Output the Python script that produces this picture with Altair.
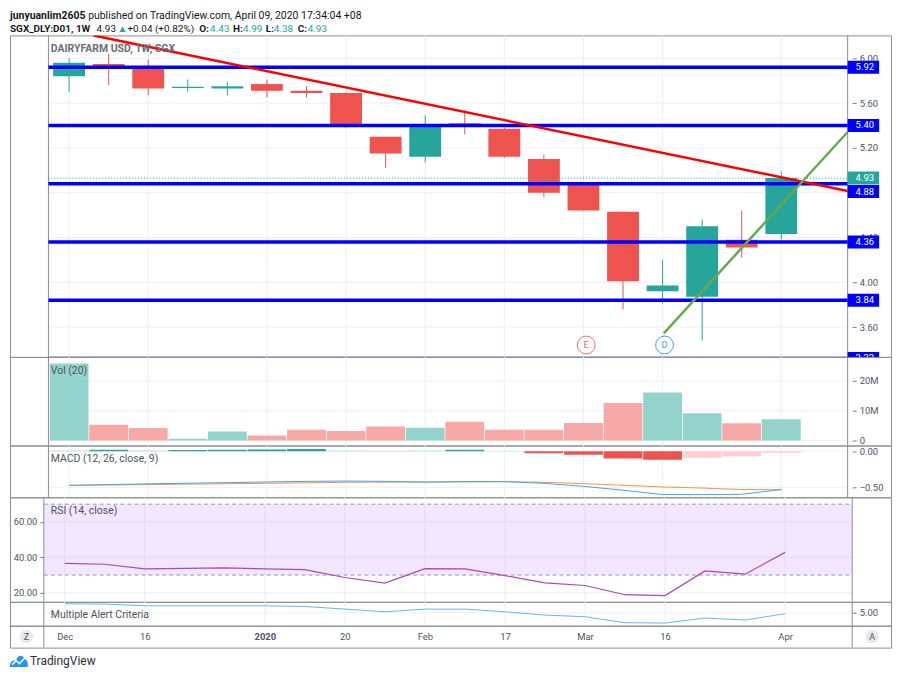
import altair as alt
import pandas as pd

# ------------------------------------------------------------------ data
weeks = ["2019-12-02", "2019-12-09", "2019-12-16", "2019-12-23", "2019-12-30",
         "2020-01-06", "2020-01-13", "2020-01-20", "2020-01-27", "2020-02-03",
         "2020-02-10", "2020-02-17", "2020-02-24", "2020-03-02", "2020-03-09",
         "2020-03-16", "2020-03-23", "2020-03-30", "2020-04-06"]
opens = [5.84, 5.95, 5.91, 5.735, 5.73, 5.77, 5.71, 5.69, 5.30, 5.12, 5.42, 5.37,
         5.10, 4.88, 4.63, 3.92, 3.87, 4.38, 4.43]
highs = [6.00, 6.04, 5.99, 5.81, 5.79, 5.81, 5.75, 5.70, 5.30, 5.49, 5.535, 5.38,
         5.14, 4.88, 4.63, 4.20, 4.56, 4.64, 4.99]
lows = [5.70, 5.76, 5.67, 5.70, 5.67, 5.65, 5.65, 5.38, 5.02, 5.07, 5.32, 5.11,
        4.76, 4.64, 3.76, 3.81, 3.48, 4.22, 4.38]
closes = [5.96, 5.92, 5.73, 5.745, 5.75, 5.71, 5.69, 5.40, 5.15, 5.41, 5.40, 5.12,
          4.80, 4.64, 4.01, 3.97, 4.50, 4.31, 4.93]
volumes_m = [25.8, 5.3, 4.2, 0.6, 3.0, 1.7, 3.6, 3.2, 4.7, 4.3, 6.3, 3.6, 3.6, 5.9,
             12.6, 16.1, 9.1, 5.8, 7.1]
macd_vals = [-0.472, -0.462, -0.452, -0.443, -0.435, -0.426, -0.418, -0.413, -0.418,
             -0.428, -0.420, -0.420, -0.445, -0.486, -0.540, -0.600, -0.600, -0.597, -0.530]
signal_vals = [-0.474, -0.468, -0.462, -0.456, -0.450, -0.444, -0.437, -0.430, -0.428,
               -0.428, -0.425, -0.423, -0.430, -0.450, -0.472, -0.495, -0.510, -0.530, -0.535]
hist_vals = [0.01, 0.02, 0.01, 0.015, 0.02, 0.025, 0.03, 0.01, -0.01, 0.01, 0.02, 0.003,
             -0.03, -0.05, -0.10, -0.12, -0.09, -0.07, -0.02]
hist_kind = ["up_weak", "up_strong", "up_weak", "up_strong", "up_strong", "up_strong",
             "up_strong", "up_weak", "down_weak", "up_weak", "up_strong", "up_weak",
             "down_strong", "down_strong", "down_strong", "down_strong", "down_weak",
             "down_weak", "down_weak"]
rsi_vals = [36.6, 36.1, 33.5, 33.8, 34.0, 33.5, 33.1, 28.6, 25.5, 33.6, 33.5, 29.7,
            25.6, 24.1, 18.9, 18.4, 32.3, 30.5, 42.8]
alert_vals = [5.93, 5.90, 5.72, 5.72, 5.72, 5.72, 5.65, 5.38, 5.10, 5.38, 5.38, 5.10,
              4.76, 4.59, 3.97, 3.94, 4.45, 4.25, 4.90]

tick_idx = [0, 2, 5, 7, 9, 11, 13, 15, 18]
tick_labels = ["Dec", "16", "2020", "20", "Feb", "17", "Mar", "16", "Apr"]
price_ticks = [6.0, 5.6, 5.2, 4.8, 4.4, 4.0, 3.6]
price_tick_labels_shown = [6.0, 5.6, 5.2, 4.4, 4.0, 3.6]   # 4.80 is hidden by a label box
vol_ticks = [0, 10, 20]
macd_ticks = [0.0, -0.5]
rsi_ticks = [20, 40, 60]
rsi_band = [30, 70]
alert_ticks = [5.0]

levels = [5.92, 5.40, 4.88, 4.36, 3.84, 3.32]
level_label_pos = [5.92, 5.40, 4.81, 4.36, 3.84, 3.32]
level_labels = ["5.92", "5.40", "4.88", "4.36", "3.84", "3.32"]
red_line_i = [0.62, 19.677]
red_line_p = [6.204, 4.815]
green_line_i = [15.03, 19.677]
green_line_p = [3.544, 5.342]
event_labels = ["E", "D"]
event_i = [13.07, 15.05]
event_p = [3.44, 3.44]
event_colors = ["#f26d73", "#3f9ff2"]
last_price = 4.93

# ------------------------------------------------------------------ style / layout
F = "Roboto"
TXT = "#131722"
LAB = "#50535e"
GRID = "#eceff5"
FRAME = "#8a8d96"
TICK = "#787b86"
TEAL = "#26a69a"
RED = "#ef5350"

W = 885
XMIN, XMAX = -1.368, 20.647
X_LO, X_HI = -0.522, 19.677
X_BOX = 20.473
BOX_H = 0.058

xs = alt.Scale(domain=[XMIN, XMAX], nice=False, zero=False)


def X(f):
    return alt.X(f, type="quantitative", scale=xs, axis=None)


def make_y(domain, axis):
    sc = alt.Scale(domain=domain, nice=False, zero=False)

    def Y(f):
        return alt.Y(f, type="quantitative", scale=sc, axis=axis)
    return Y


def right_axis(values, **kw):
    return alt.Axis(orient="right", offset=-39, values=values, grid=False, domain=False,
                    tickSize=4, tickColor=TICK, labelColor=LAB, labelFontSize=9.5,
                    labelPadding=3, labelOverlap=False, title=None, minExtent=0,
                    maxExtent=40, **kw)


one = pd.DataFrame({"k": [0]})


def txt(text, x, y, size, color, weight="normal", align="left"):
    return alt.Chart(one).mark_text(
        text=text, align=align, baseline="middle", fontSize=size,
        fontWeight=weight, color=color, font=F
    ).encode(x=alt.value(x), y=alt.value(y))


def seps(axis=None):
    return alt.Chart(pd.DataFrame({"x": [X_LO, X_HI]})).mark_rule(
        color=FRAME, strokeWidth=1).encode(
        x=alt.X("x", type="quantitative", scale=xs, axis=axis))


def vgrid():
    return alt.Chart(pd.DataFrame({"i": tick_idx})).mark_rule(
        color=GRID, strokeWidth=1).encode(x=X("i"))


def hgrid(values, Y):
    return alt.Chart(pd.DataFrame({"v": values, "x0": X_LO, "x1": X_HI})).mark_rule(
        color=GRID, strokeWidth=1).encode(x=X("x0"), x2=alt.X2("x1"), y=Y("v"))


cdf = pd.DataFrame({"i": list(range(len(weeks))), "week": weeks, "open": opens,
                    "high": highs, "low": lows, "close": closes, "vol": volumes_m})
cdf["dir"] = ["up" if c >= o else "down" for o, c in zip(opens, closes)]
cdf["base"] = 0.0

# ------------------------------------------------------------------ header
head_l1 = [("junyuanlim2605", 0, "bold", TXT),
           ("published on TradingView.com, April 09, 2020 17:34:04 +08", 78.5, "normal", TXT)]
head_l2 = [("SGX_DLY:D01, 1W", 0, "bold", TXT), ("4.93", 87, "normal", TXT),
           ("▲", 108, "normal", TEAL), ("+0.04 (+0.82%)", 118, "normal", TXT),
           ("O:", 190, "bold", TXT), ("4.43", 201, "normal", TEAL),
           ("H:", 224, "bold", TXT), ("4.99", 234, "normal", TEAL),
           ("L:", 257, "bold", TXT), ("4.38", 265, "normal", TEAL),
           ("C:", 289, "bold", TXT), ("4.93", 299, "normal", TEAL)]
head_layers = [txt(t, x, 6, 10.5, c, w) for t, x, w, c in head_l1]
head_layers += [txt(t, x, 19, 10, c, w) for t, x, w, c in head_l2]
header = alt.layer(*head_layers).properties(
    width=W, height=25, view=alt.ViewBackground(stroke="transparent"))

# ------------------------------------------------------------------ price pane
YP = make_y([3.3333, 6.2044], right_axis(price_tick_labels_shown, format=".2f"))
cdir = alt.Color("dir:N", scale=alt.Scale(domain=["up", "down"], range=[TEAL, RED]),
                 legend=None)

wick = alt.Chart(cdf).mark_rule(strokeWidth=1).encode(
    x=X("i"), y=YP("low"), y2=alt.Y2("high"), color=cdir)
body = alt.Chart(cdf).mark_bar(size=32).encode(
    x=X("i"), y=YP("open"), y2=alt.Y2("close"), color=cdir)
lvl = alt.Chart(pd.DataFrame({"v": levels, "x0": X_LO, "x1": X_HI})).mark_rule(
    color="#0000ff", strokeWidth=3.5, clip=True).encode(
    x=X("x0"), x2=alt.X2("x1"), y=YP("v"))
lastline = alt.Chart(pd.DataFrame({"v": [last_price], "x0": X_LO, "x1": X_HI})).mark_rule(
    color=TEAL, strokeDash=[1, 2], strokeWidth=1).encode(
    x=X("x0"), x2=alt.X2("x1"), y=YP("v"))
red_tl = alt.Chart(pd.DataFrame({"i": red_line_i, "p": red_line_p})).mark_line(
    color="#ff0000", strokeWidth=2.5, clip=True).encode(x=X("i"), y=YP("p"))
green_tl = alt.Chart(pd.DataFrame({"i": green_line_i, "p": green_line_p})).mark_line(
    color="#6aa84f", strokeWidth=2.5, clip=True).encode(x=X("i"), y=YP("p"))

boxdf = pd.DataFrame({"pos": level_label_pos, "txt": level_labels, "x0": X_HI, "x1": X_BOX})
boxes = alt.Chart(boxdf).transform_calculate(
    lo=f"datum.pos - {BOX_H}", hi=f"datum.pos + {BOX_H}").mark_rect(
    color="#0000ff", clip=True).encode(
    x=X("x0"), x2=alt.X2("x1"), y=YP("lo:Q"), y2=alt.Y2("hi:Q"))
boxtxt = alt.Chart(boxdf).mark_text(
    color="white", align="left", dx=8, fontSize=9.5, clip=True).encode(
    x=X("x0"), y=YP("pos"), text="txt:N")
lastdf = pd.DataFrame({"pos": [last_price], "txt": [f"{last_price:.2f}"], "x0": X_HI, "x1": X_BOX})
lastbox = alt.Chart(lastdf).transform_calculate(
    lo=f"datum.pos - {BOX_H}", hi=f"datum.pos + {BOX_H}").mark_rect(
    color=TEAL).encode(x=X("x0"), x2=alt.X2("x1"), y=YP("lo:Q"), y2=alt.Y2("hi:Q"))
lasttxt = alt.Chart(lastdf).mark_text(
    color="white", align="left", dx=8, fontSize=9.5).encode(
    x=X("x0"), y=YP("pos"), text="txt:N")

ev_layers = []
for lab, ei, ep, col in zip(event_labels, event_i, event_p, event_colors):
    edf = pd.DataFrame({"i": [ei], "p": [ep], "t": [lab]})
    ev_layers.append(alt.Chart(edf).mark_circle(
        size=320, color="white", opacity=1, stroke=col, strokeWidth=1).encode(
        x=X("i"), y=YP("p")))
    ev_layers.append(alt.Chart(edf).mark_text(
        color=col, fontSize=9.5, baseline="middle").encode(
        x=X("i"), y=YP("p"), text="t:N"))

price = alt.layer(
    hgrid(price_ticks, YP), vgrid(), seps(), wick, body, lastline, lvl, red_tl, green_tl,
    boxes, boxtxt, lastbox, lasttxt, *ev_layers,
    txt("DAIRYFARM USD, 1W, SGX", 41, 14, 10.5, "#6a6d78", "bold"),
).properties(width=W, height=323)

# ------------------------------------------------------------------ volume pane
YV = make_y([-1.667, 28.0], right_axis(
    vol_ticks, labelExpr="datum.value == 0 ? '0' : datum.value + 'M'"))
vbars = alt.Chart(cdf).mark_bar(size=39).encode(
    x=X("i"), y=YV("vol"), y2=alt.Y2("base"),
    color=alt.Color("dir:N", scale=alt.Scale(domain=["up", "down"],
                                              range=["#93d3cc", "#f7a9a7"]), legend=None))
volume = alt.layer(
    hgrid(vol_ticks, YV), vgrid(), seps(), vbars,
    txt("Vol (20)", 41, 14, 10.5, LAB),
).properties(width=W, height=89)

# ------------------------------------------------------------------ MACD pane
YM = make_y([-0.638, 0.0785], right_axis(macd_ticks, format=".2f"))
mdf = pd.DataFrame({"i": list(range(len(weeks))), "macd": macd_vals, "signal": signal_vals,
                    "hist": hist_vals, "kind": hist_kind, "base": 0.0})
hbars = alt.Chart(mdf).mark_bar(size=39).encode(
    x=X("i"), y=YM("hist"), y2=alt.Y2("base"),
    color=alt.Color("kind:N", scale=alt.Scale(
        domain=["up_strong", "up_weak", "down_strong", "down_weak"],
        range=["#26a69a", "#b2dfdb", "#ef5350", "#ffcdd2"]), legend=None))
mline = alt.Chart(mdf).mark_line(color="#42a5f5", strokeWidth=1).encode(x=X("i"), y=YM("macd"))
sline = alt.Chart(mdf).mark_line(color="#ff8f3a", strokeWidth=1).encode(x=X("i"), y=YM("signal"))
macd = alt.layer(
    hgrid(macd_ticks, YM), vgrid(), seps(), hbars, sline, mline,
    txt("MACD (12, 26, close, 9)", 41, 14, 10.5, LAB),
).properties(width=W, height=52)

# ------------------------------------------------------------------ RSI pane
YR = make_y([14.89, 73.88], alt.Axis(
    orient="left", offset=-34, values=rsi_ticks, format=".2f", grid=False, domain=False,
    tickSize=4, tickColor=TICK, labelColor=LAB, labelFontSize=9.5, labelPadding=3,
    labelOverlap=False, title=None, minExtent=0, maxExtent=40))
rdf = pd.DataFrame({"i": list(range(len(weeks))), "rsi": rsi_vals})
band = alt.Chart(pd.DataFrame({"lo": [rsi_band[0]], "hi": [rsi_band[1]],
                               "x0": [X_LO], "x1": [X_HI]})).mark_rect(
    color="#b66dff", opacity=0.17).encode(
    x=X("x0"), x2=alt.X2("x1"), y=YR("lo"), y2=alt.Y2("hi"))
bandlines = alt.Chart(pd.DataFrame({"v": rsi_band, "x0": X_LO, "x1": X_HI})).mark_rule(
    color="#9598a1", strokeDash=[4, 3], strokeWidth=1).encode(
    x=X("x0"), x2=alt.X2("x1"), y=YR("v"))
rline = alt.Chart(rdf).mark_line(color="#ab47bc", strokeWidth=1.2).encode(x=X("i"), y=YR("rsi"))
rsi = alt.layer(
    hgrid(rsi_ticks, YR), vgrid(), band, bandlines, seps(), rline,
    txt("RSI (14, close)", 41, 14, 10.5, LAB),
).properties(width=W, height=105)

# ------------------------------------------------------------------ Multiple Alert Criteria pane
YA = make_y([3.66, 6.134], right_axis(alert_ticks, format=".2f"))
adf = pd.DataFrame({"i": list(range(len(weeks))), "a": alert_vals})
aline = alt.Chart(adf).mark_line(color="#64b5f6", strokeWidth=1).encode(x=X("i"), y=YA("a"))
alert = alt.layer(
    hgrid(alert_ticks, YA), vgrid(), seps(), aline,
    txt("Multiple Alert Criteria", 41, 13, 10.5, LAB),
).properties(width=W, height=24)

# ------------------------------------------------------------------ time axis pane
bold_val = tick_idx[tick_labels.index("2020")]
label_expr = ("[" + ",".join(f"'{s}'" for s in tick_labels) + "][indexof(["
              + ",".join(str(v) for v in tick_idx) + "], datum.value)]")
t_axis = alt.Axis(orient="bottom", offset=-22, values=tick_idx, labelExpr=label_expr,
                  ticks=False, tickSize=0, domain=False, grid=False, labelPadding=6,
                  labelFontSize=9.5, labelColor=LAB, labelOverlap=False, labelFlush=False,
                  labelFontWeight={"condition": {"test": f"datum.value == {bold_val}",
                                                 "value": "bold"}, "value": "normal"},
                  title=None)


def button(letter, x):
    return [
        alt.Chart(one).mark_circle(size=180, color="#e6e8ee", opacity=1).encode(
            x=alt.value(x), y=alt.value(11)),
        txt(letter, x, 11, 9, LAB, "normal", "center"),
    ]


timeaxis = alt.layer(
    seps(t_axis), *button("Z", 16.5), *button("A", 866),
).properties(width=W, height=22)

# ------------------------------------------------------------------ logo pane
cloud = ("M-1,0.7 C-1.05,0.15 -0.65,-0.1 -0.35,0.05 C-0.2,-0.6 0.45,-0.75 0.6,-0.15 "
         "C0.95,-0.15 1.05,0.35 0.95,0.7 Z")
zig = "M-0.75,0.45 L-0.3,0.0 L0.05,0.35 L0.55,-0.2"
logo = alt.layer(
    alt.Chart(one).mark_point(shape=cloud, size=330, filled=True, color="#2196f3",
                              opacity=1).encode(x=alt.value(9), y=alt.value(13)),
    alt.Chart(one).mark_point(shape=zig, size=330, filled=False, color="white",
                              strokeWidth=1.6, opacity=1).encode(x=alt.value(9), y=alt.value(13)),
    txt("TradingView", 20, 13.5, 12, "#2a2e39"),
).properties(width=W, height=25, view=alt.ViewBackground(stroke="transparent"))

chart = alt.vconcat(
    header, price, volume, macd, rsi, alert, timeaxis, logo, spacing=0, bounds="flush"
).resolve_scale(
    x="independent", y="independent", color="independent"
).properties(padding=0).configure(
    font=F, view=alt.ViewConfig(stroke=FRAME, strokeWidth=1)
)

chart.save("out.html", embed_options={"renderer": "svg", "actions": False})
